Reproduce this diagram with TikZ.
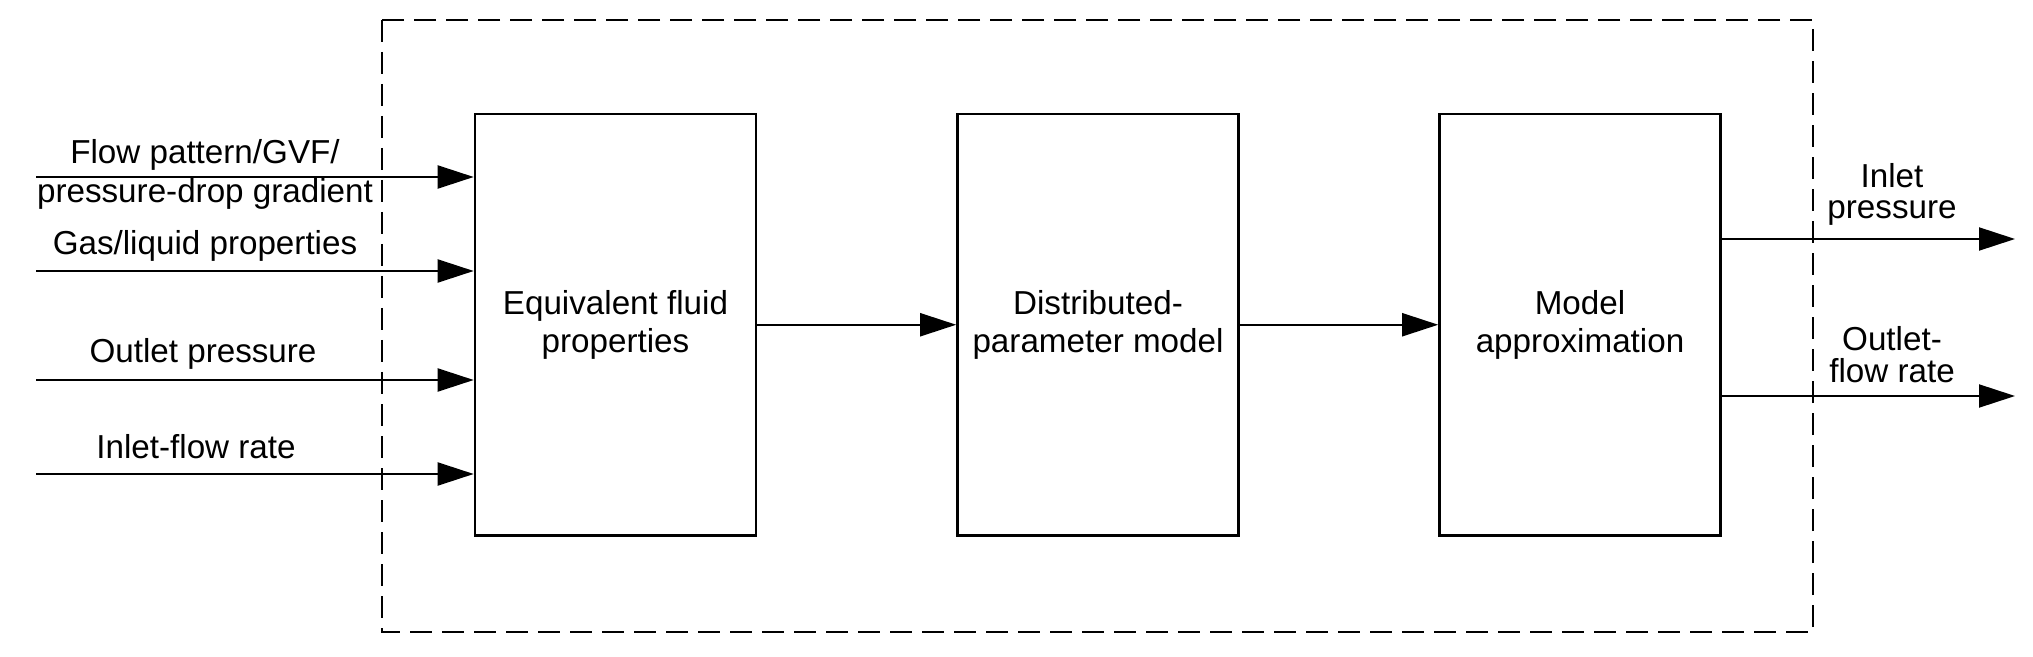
\documentclass[tikz,border=0pt]{standalone}
\usepackage{fontspec}
\setmainfont{Liberation Sans}
\usetikzlibrary{arrows.meta}
\begin{document}
\begin{tikzpicture}[x=0.5pt,y=-0.5pt,
  box/.style={draw, line width=1.3pt, minimum width=140.5pt, minimum height=210.75pt,
    inner sep=0pt, align=center, font=\fontsize{16.6}{19}\selectfont},
  lab/.style={font=\fontsize{16.6}{15.8}\selectfont, inner sep=0pt, align=center, anchor=base},
  flow/.style={line width=1pt, -{Triangle[length=18pt,width=11.5pt]}},
  frame/.style={line width=1.2pt, dash pattern=on 11pt off 5pt}]
\useasboundingbox (0,0) rectangle (2033,657);
% dashed system boundary
\draw[frame] (382,20) rectangle (1813,632);
% blocks
\node[box] (b1) at (615.5,324.75) {Equivalent fluid\\properties};
\node[box] (b2) at (1098,324.75) {Distributed-\\parameter model};
\node[box] (b3) at (1580,324.75) {Model\\approximation};
% input free ends
\coordinate (in1) at (36,177);
\coordinate (in2) at (36,271);
\coordinate (in3) at (36,380);
\coordinate (in4) at (36,474);
% output free ends
\coordinate (out1) at (2015,239);
\coordinate (out2) at (2015,396);
% connectors
\draw[flow] (in1) -- (in1 -| b1.west);
\draw[flow] (in2) -- (in2 -| b1.west);
\draw[flow] (in3) -- (in3 -| b1.west);
\draw[flow] (in4) -- (in4 -| b1.west);
\draw[flow] (b1.east) -- (b2.west);
\draw[flow] (b2.east) -- (b3.west);
\draw[flow] (out1 -| b3.east) -- (out1);
\draw[flow] (out2 -| b3.east) -- (out2);
% labels
\node[lab] (l1) at (205,164) {Flow pattern/GVF/};
\node[lab] (l1b) at (205,203) {pressure-drop gradient};
\node[lab] (l2) at (205,255) {Gas/liquid properties};
\node[lab] (l3) at (203,363) {Outlet pressure};
\node[lab] (l4) at (196,458) {Inlet-flow rate};
\node[lab] (o1) at (1892,219) {Inlet\\pressure};
\node[lab] (o2) at (1892,382) {Outlet-\\flow rate};
\end{tikzpicture}
\end{document}
